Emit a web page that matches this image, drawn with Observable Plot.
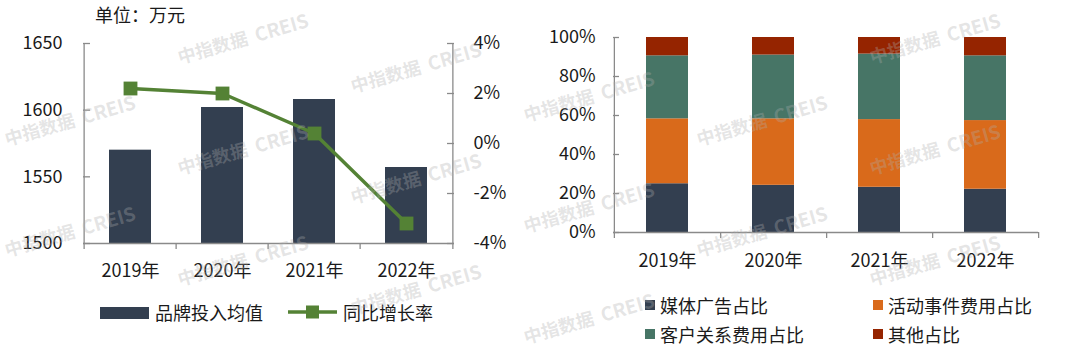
<!DOCTYPE html>
<html><head><meta charset="utf-8">
<script src="https://cdn.jsdelivr.net/npm/d3@7"></script>
<script src="https://cdn.jsdelivr.net/npm/@observablehq/plot@0.6"></script>
<style>
html,body{margin:0;padding:0;background:#fff;}
#root{position:relative;width:1080px;height:355px;overflow:hidden;font-family:"Noto Sans CJK SC","Noto Sans",sans-serif;color:#1e1e1e;background:#fff;}
#left,#right,#overlay{position:absolute;top:0;}
#left{left:0;} #right{left:540px;} #overlay{left:0;pointer-events:none;}
</style></head><body><div id="root"><div id="left"></div><div id="right"></div></div>
<script>
// ---- data ----
const years = ["2019年", "2020年", "2021年", "2022年"];
const brandInvest = [1570, 1602, 1608, 1557];      // 品牌投入均值 (万元)
const yoyGrowth = [2.2, 2.0, 0.4, -3.2];           // 同比增长率 (%)
const leftTicks = [1500, 1550, 1600, 1650];
const rightTicks = [-4, -2, 0, 2, 4];
const shareSeries = ["媒体广告占比", "活动事件费用占比", "客户关系费用占比", "其他占比"];
const mediaShare = [25.0, 24.2, 23.2, 22.2];
const eventShare = [33.3, 34.1, 34.7, 35.2];
const crmShare = [32.3, 32.7, 33.6, 33.2];
const otherShare = [9.4, 9.0, 8.5, 9.4];
const shareTicks = [0, 20, 40, 60, 80, 100];
const leftLegend = ["品牌投入均值", "同比增长率"];
const unitLabel = "单位：万元";
const watermark = ["中指数据", "CREIS"];

// ---- styles ----
const navy = "#333f50", orange = "#d96a1b", teal = "#477566", brick = "#952400", green = "#548235";
const axisColor = "#8a8a8a", textColor = "#1a1a1a";
const font = "'Noto Sans CJK SC', 'Noto Sans', sans-serif";
const baseStyle = {fontFamily: font, fontSize: "18px", color: textColor, background: "transparent", overflow: "visible"};

// ---- left chart ----
{
  const W = 540, H = 290, mL = 83, mR = 86, mT = 43, mB = 47;
  const plotW = W - mL - mR, plotH = H - mT - mB, step = plotW / years.length;
  const yMin = leftTicks[0], yMax = leftTicks[leftTicks.length - 1];
  const rMin = rightTicks[0], rMax = rightTicks[rightTicks.length - 1];
  const toLeft = p => yMin + (p - rMin) / (rMax - rMin) * (yMax - yMin);
  const fromLeft = v => Math.round(rMin + (v - yMin) / (yMax - yMin) * (rMax - rMin));
  const data = years.map((year, i) => ({year, value: brandInvest[i], yoy: yoyGrowth[i]}));
  const chart = Plot.plot({
    width: W, height: H, marginLeft: mL, marginRight: mR, marginTop: mT, marginBottom: mB,
    style: baseStyle,
    x: {type: "band", domain: years, paddingInner: 0.54, paddingOuter: 0.27, label: null},
    y: {domain: [yMin, yMax], label: null},
    marks: [
      Plot.barY(data, {x: "year", y1: () => yMin, y2: "value", fill: navy}),
      Plot.ruleY([yMin], {stroke: axisColor, strokeWidth: 1.3}),
      Plot.ruleX([years[0]], {x: d => d, dx: -step / 2, insetBottom: -6, stroke: axisColor, strokeWidth: 1.3}),
      Plot.ruleX([years[years.length - 1]], {x: d => d, dx: step / 2, insetBottom: -6, stroke: axisColor, strokeWidth: 1.3}),
      Plot.ruleX(years.slice(1), {x: d => d, dx: -step / 2, insetTop: plotH, insetBottom: -6, stroke: axisColor, strokeWidth: 1.3}),
      Plot.ruleY(leftTicks, {y: d => d, insetRight: plotW - 7, stroke: axisColor, strokeWidth: 1.3}),
      Plot.ruleY(rightTicks.map(toLeft), {y: d => d, insetLeft: plotW - 7, stroke: axisColor, strokeWidth: 1.3}),
      Plot.line(data, {x: "year", y: d => toLeft(d.yoy), stroke: green, strokeWidth: 3.5}),
      Plot.dot(data, {x: "year", y: d => toLeft(d.yoy), symbol: "square", r: 7.8, fill: green, stroke: null}),
      Plot.axisY(leftTicks, {anchor: "left", tickSize: 0, tickPadding: 21, label: null, tickFormat: d => String(d), fill: textColor}),
      Plot.axisY(rightTicks.map(toLeft), {anchor: "right", tickSize: 0, tickPadding: 19, label: null, tickFormat: v => fromLeft(v) + "%", fill: textColor}),
      Plot.axisX({tickSize: 0, tickPadding: 21, label: null, fill: textColor})
    ]
  });
  document.getElementById("left").append(chart);
}

// ---- right chart ----
{
  const W = 540, H = 290, mL = 73, mR = 42, mT = 37, mB = 58;
  const plotW = W - mL - mR, plotH = H - mT - mB, step = plotW / years.length;
  const seriesValues = [mediaShare, eventShare, crmShare, otherShare];
  const data = [];
  years.forEach((year, i) => shareSeries.forEach((s, k) => data.push({year, series: s, value: seriesValues[k][i]})));
  const chart = Plot.plot({
    width: W, height: H, marginLeft: mL, marginRight: mR, marginTop: mT, marginBottom: mB,
    style: baseStyle,
    x: {type: "band", domain: years, paddingInner: 0.605, paddingOuter: 0.3025, label: null},
    y: {domain: [0, 100], label: null},
    color: {domain: shareSeries, range: [navy, orange, teal, brick]},
    marks: [
      Plot.barY(data, {x: "year", y: "value", fill: "series", order: shareSeries}),
      Plot.ruleY([0], {stroke: axisColor, strokeWidth: 1.3}),
      Plot.ruleX([years[0]], {x: d => d, dx: -step / 2, insetBottom: -6, stroke: axisColor, strokeWidth: 1.3}),
      Plot.ruleX(years, {x: d => d, dx: step / 2, insetTop: plotH, insetBottom: -6, stroke: axisColor, strokeWidth: 1.3}),
      Plot.ruleY(shareTicks, {y: d => d, insetRight: plotW - 6, stroke: axisColor, strokeWidth: 1.3}),
      Plot.axisY(shareTicks, {anchor: "left", tickSize: 0, tickPadding: 18, label: null, tickFormat: d => d + "%", fill: textColor}),
      Plot.axisX({tickSize: 0, tickPadding: 22, label: null, fill: textColor})
    ]
  });
  document.getElementById("right").append(chart);
}

// ---- overlay: unit label, legends, watermark ----
{
  const svg = d3.create("svg").attr("id", "overlay").attr("width", 1080).attr("height", 355)
    .style("font-family", font).style("font-size", "18px");
  const txt = (x, y, s) => svg.append("text").attr("x", x).attr("y", y).attr("dominant-baseline", "central").attr("fill", textColor).text(s);
  txt(95, 14, unitLabel);
  // left legend
  svg.append("rect").attr("x", 100).attr("y", 307).attr("width", 49).attr("height", 12).attr("fill", navy);
  txt(155, 312, leftLegend[0]);
  svg.append("line").attr("x1", 288).attr("x2", 337).attr("y1", 312).attr("y2", 312).attr("stroke", green).attr("stroke-width", 3.5);
  svg.append("rect").attr("x", 306).attr("y", 305.5).attr("width", 13).attr("height", 13).attr("fill", green);
  txt(343, 312, leftLegend[1]);
  // right legend
  const cols = [645, 873], rows = [305, 334], sw = [navy, orange, teal, brick];
  shareSeries.forEach((s, i) => {
    const cx = cols[i % 2], cy = rows[Math.floor(i / 2)];
    svg.append("rect").attr("x", cx).attr("y", cy - 5).attr("width", 10).attr("height", 10).attr("fill", sw[i]);
    txt(cx + 15, cy, s);
  });
  // watermark (only fully visible copies)
  const wm = svg.append("g").attr("fill", "rgb(174,174,174)").attr("fill-opacity", 0.32).attr("font-weight", 700);
  for (let k = 0; k < 7; k++) {
    for (let j = 0; j < 4; j++) {
      const x = 7 + 173 * k, y = 35 + 29 * (k % 4) + 111 * j;
      if (y < 58 || y > 348 || x + 136 > 1080) continue;
      const t = wm.append("text").attr("transform", `translate(${x},${y}) rotate(-16)`);
      t.append("tspan").text(watermark[0]);
      t.append("tspan").attr("dx", 8).attr("font-size", "19px").text(watermark[1]);
    }
  }
  document.getElementById("root").append(svg.node());
}
</script></body></html>
